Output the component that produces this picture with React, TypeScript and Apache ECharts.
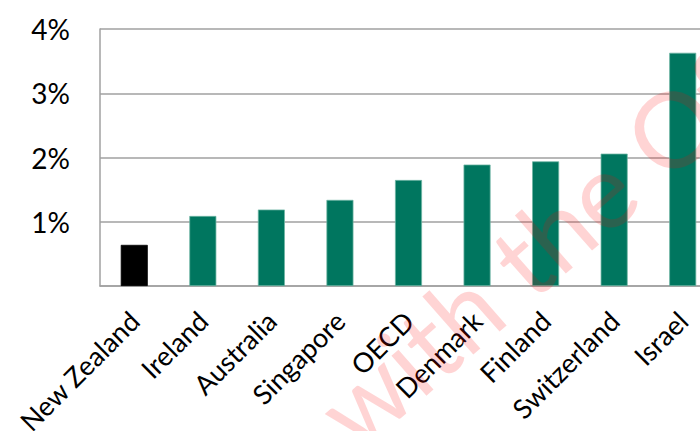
import React, { useEffect, useRef } from "react";
import * as echarts from "echarts";

const categories = [
  "New Zealand",
  "Ireland",
  "Australia",
  "Singapore",
  "OECD",
  "Denmark",
  "Finland",
  "Switzerland",
  "Israel",
];
const values = [0.64, 1.09, 1.19, 1.34, 1.65, 1.89, 1.94, 2.06, 3.63];
const highlight = ["New Zealand"];
const yTicks = [0, 1, 2, 3, 4];
const watermarkText = "with the Official";

export default function App() {
  const ref = useRef<HTMLDivElement>(null);
  useEffect(() => {
    if (!ref.current) return;
    const chart = echarts.init(ref.current, null, { renderer: "svg" });
    const font = "Lato, Calibri, sans-serif";
    chart.setOption({
      animation: false,
      backgroundColor: "#ffffff",
      grid: {
        left: 100,
        right: -17,
        top: 29,
        bottom: 145,
        containLabel: false,
        outerBoundsMode: "none",
      },
      xAxis: {
        type: "category",
        data: categories,
        axisLine: { show: true, lineStyle: { color: "#a0a0a0", width: 1.5 } },
        axisTick: { show: false },
        axisLabel: {
          rotate: 45,
          margin: 30,
          color: "#000",
          fontSize: 27,
          fontFamily: font,
          interval: 0,
        },
      },
      yAxis: {
        type: "value",
        min: yTicks[0],
        max: yTicks[yTicks.length - 1],
        interval: 1,
        axisLine: { show: true, lineStyle: { color: "#a0a0a0", width: 1.5 } },
        axisTick: { show: false },
        splitLine: { show: true, lineStyle: { color: "#a0a0a0", width: 1.5 } },
        axisLabel: {
          margin: 30,
          color: "#000",
          fontSize: 28,
          fontFamily: font,
          formatter: (v: number) => (v === 0 ? "" : `${v}%`),
        },
      },
      series: [
        {
          type: "bar",
          barWidth: 27,
          data: values.map((v, i) => ({
            value: v,
            itemStyle: {
              color: highlight.includes(categories[i]) ? "#000000" : "#00765f",
              borderColor: highlight.includes(categories[i]) ? "#000000" : "#6fb5a4",
              borderWidth: 0.75,
            },
          })),
        },
      ],
      graphic: [
        {
          type: "text",
          x: 366,
          y: 464,
          rotation: 0.72,
          z: 100,
          silent: true,
          style: {
            text: watermarkText,
            fontSize: 105,
            fontFamily: font,
            fill: "rgba(255,0,0,0.17)",
            textAlign: "left",
            textVerticalAlign: "bottom",
          },
        },
      ],
    });
    return () => chart.dispose();
  }, []);
  return (
    <div
      ref={ref}
      style={{ position: "fixed", left: 0, top: 0, width: 700, height: 431 }}
    />
  );
}
